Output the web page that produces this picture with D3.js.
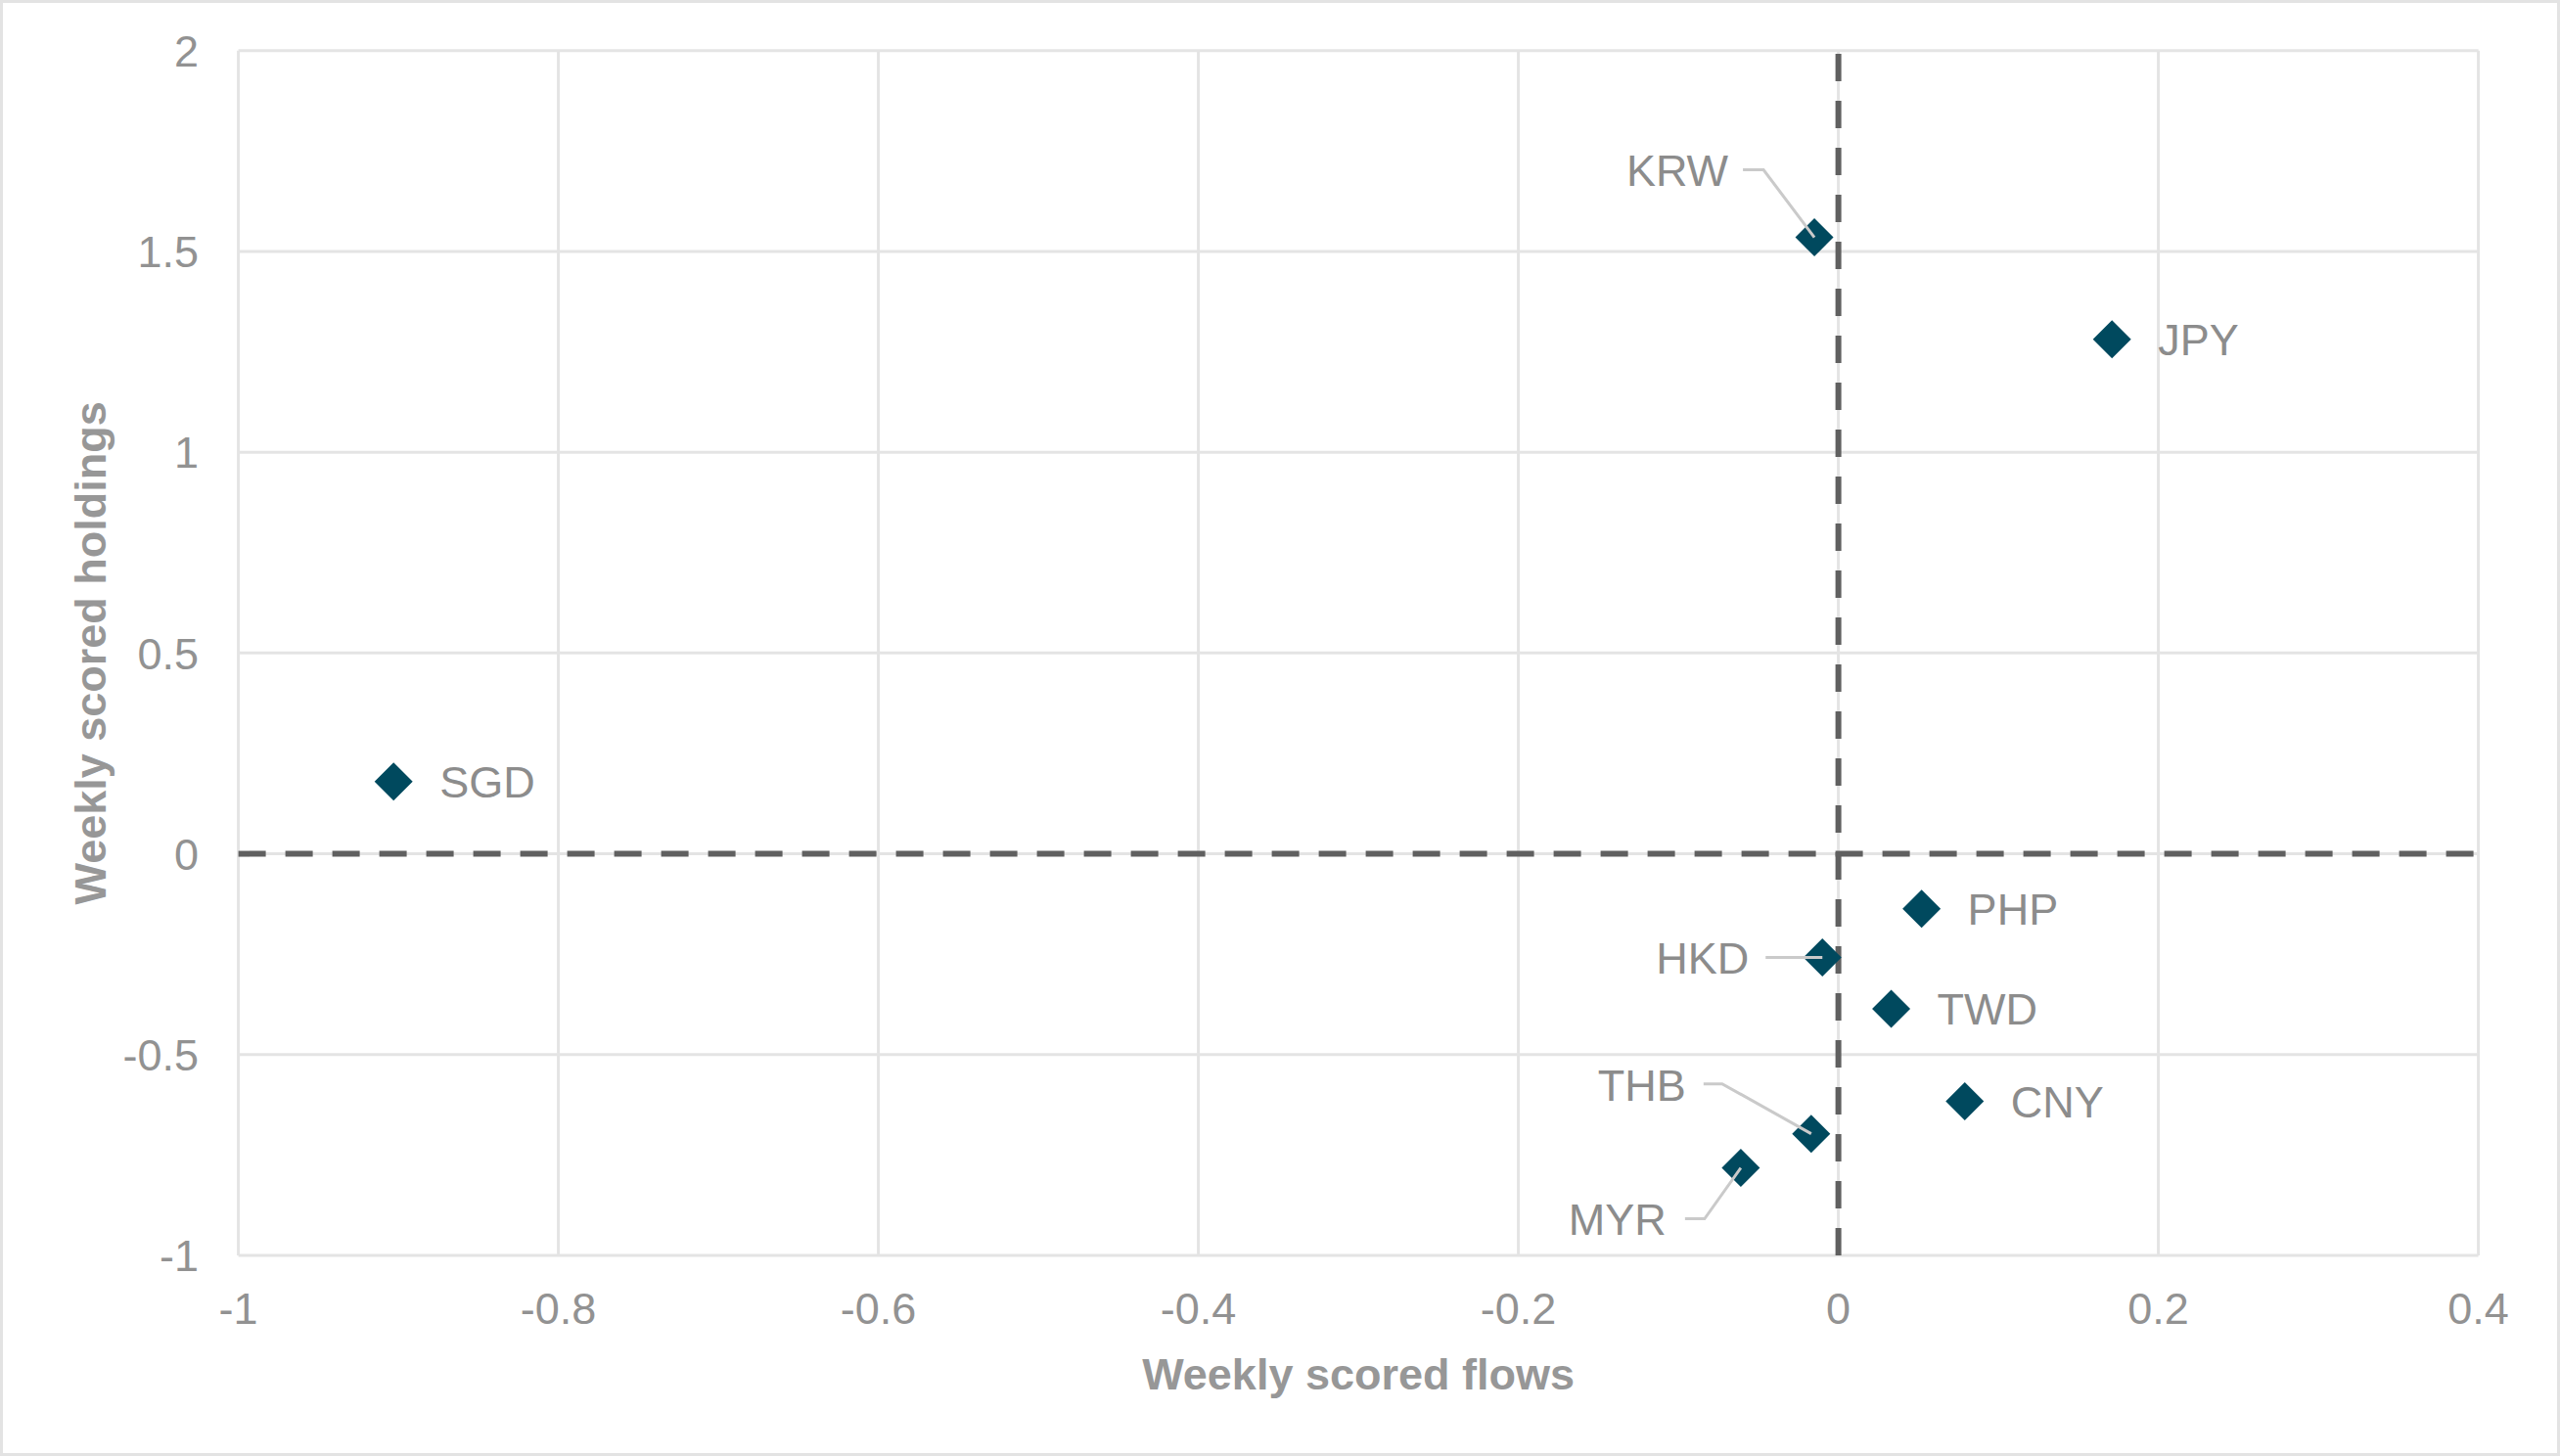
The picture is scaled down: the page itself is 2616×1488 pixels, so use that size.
<!DOCTYPE html>
<html>
<head>
<meta charset="utf-8">
<script src="https://cdn.jsdelivr.net/npm/d3@7"></script>
<style>
  body { margin: 0; background: #fff; }
  text { font-family: 'Liberation Sans', Arial, sans-serif; }
</style>
</head>
<body>
<script>
// currencies and their scores
const currencies = ['KRW', 'JPY', 'SGD', 'PHP', 'HKD', 'TWD', 'CNY', 'THB', 'MYR'];
const flows = [-0.015, 0.171, -0.903, 0.052, -0.010, 0.033, 0.079, -0.017, -0.061];
const holdings = [1.535, 1.281, 0.180, -0.137, -0.258, -0.386, -0.616, -0.697, -0.782];

const xTicks = [-1, -0.8, -0.6, -0.4, -0.2, 0, 0.2, 0.4];
const yTicks = [-1, -0.5, 0, 0.5, 1, 1.5, 2];

const width = 2616;
const height = 1488;

const svg = d3.select('body')
  .append('svg')
  .attr('width', width)
  .attr('height', height);

// outer border
svg.append('rect')
  .attr('x', 1.5).attr('y', 1.5)
  .attr('width', width - 3).attr('height', height - 3)
  .attr('fill', '#fff')
  .attr('stroke', '#e3e3e3')
  .attr('stroke-width', 3);

const x = d3.scaleLinear().domain([-1, 0.4]).range([243.6, 2532.6]);
const y = d3.scaleLinear().domain([-1, 2]).range([1283, 51.7]);

const fmt = d => String(+d.toFixed(1));

// gridlines
svg.append('g')
  .selectAll('line')
  .data(xTicks)
  .enter()
  .append('line')
  .attr('x1', d => x(d)).attr('x2', d => x(d))
  .attr('y1', y(2)).attr('y2', y(-1))
  .attr('stroke', '#e4e4e4')
  .attr('stroke-width', 3);

svg.append('g')
  .selectAll('line')
  .data(yTicks)
  .enter()
  .append('line')
  .attr('x1', x(-1)).attr('x2', x(0.4))
  .attr('y1', d => y(d)).attr('y2', d => y(d))
  .attr('stroke', '#e4e4e4')
  .attr('stroke-width', 3);

// tick labels
svg.append('g')
  .selectAll('text')
  .data(xTicks)
  .enter()
  .append('text')
  .attr('x', d => x(d))
  .attr('y', 1353)
  .attr('text-anchor', 'middle')
  .attr('font-size', 45)
  .attr('fill', '#929292')
  .text(fmt);

svg.append('g')
  .selectAll('text')
  .data(yTicks)
  .enter()
  .append('text')
  .attr('x', 203)
  .attr('y', d => y(d))
  .attr('dy', '0.36em')
  .attr('text-anchor', 'end')
  .attr('font-size', 45)
  .attr('fill', '#929292')
  .text(fmt);

// dashed zero lines
svg.append('line')
  .attr('x1', x(-1)).attr('x2', x(0.4))
  .attr('y1', y(0)).attr('y2', y(0))
  .attr('stroke', '#606060')
  .attr('stroke-width', 6)
  .attr('stroke-dasharray', '28,20');

svg.append('line')
  .attr('x1', x(0)).attr('x2', x(0))
  .attr('y1', y(-1)).attr('y2', y(2))
  .attr('stroke', '#606060')
  .attr('stroke-width', 6)
  .attr('stroke-dasharray', '28,20');

// axis titles
svg.append('text')
  .attr('x', (x(-1) + x(0.4)) / 2)
  .attr('y', 1420)
  .attr('text-anchor', 'middle')
  .attr('font-size', 45)
  .attr('font-weight', 'bold')
  .attr('fill', '#979797')
  .text('Weekly scored flows');

svg.append('text')
  .attr('transform', `translate(108,${(y(2) + y(-1)) / 2}) rotate(-90)`)
  .attr('text-anchor', 'middle')
  .attr('font-size', 45)
  .attr('font-weight', 'bold')
  .attr('fill', '#979797')
  .text('Weekly scored holdings');

const points = currencies.map((c, i) => ({ name: c, fx: flows[i], hy: holdings[i] }));

// label placement: right of the marker, or offset with a leader line
const leader = {
  KRW: { tx: -88, ty: -69, path: [[-73, -69], [-52, -69]] },
  HKD: { tx: -75, ty: 0, path: [[-58, 0]] },
  THB: { tx: -128, ty: -50, path: [[-110, -51], [-91, -51]] },
  MYR: { tx: -76, ty: 52, path: [[-57, 52], [-37, 52]] }
};

// markers
const nodes = svg.selectAll('.pt')
  .data(points)
  .enter()
  .append('g')
  .attr('class', 'pt')
  .attr('transform', d => `translate(${x(d.fx)},${y(d.hy)})`);

nodes.append('path')
  .attr('d', d3.symbol(d3.symbolSquare, 760))
  .attr('transform', 'rotate(45)')
  .attr('fill', '#00495e');

nodes.filter(d => leader[d.name])
  .append('path')
  .attr('d', d => d3.line()(leader[d.name].path.concat([[0, 0]])))
  .attr('fill', 'none')
  .attr('stroke', '#cacaca')
  .attr('stroke-width', 3);

nodes.append('text')
  .attr('x', d => leader[d.name] ? leader[d.name].tx : 47)
  .attr('y', d => leader[d.name] ? leader[d.name].ty : 0)
  .attr('dy', '0.36em')
  .attr('text-anchor', d => leader[d.name] ? 'end' : 'start')
  .attr('font-size', 45)
  .attr('fill', '#8c8c8c')
  .text(d => d.name);
</script>
</body>
</html>
